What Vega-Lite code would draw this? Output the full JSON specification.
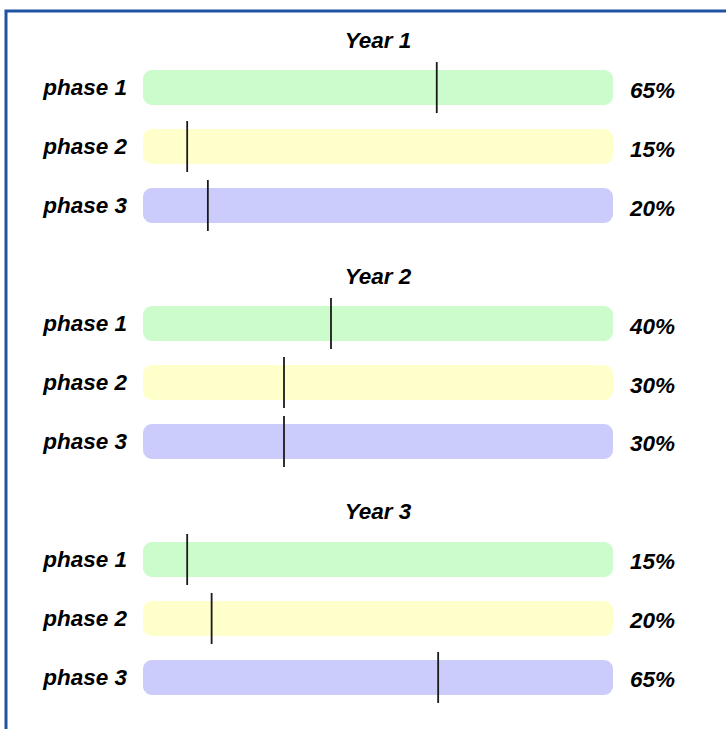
{
  "$schema": "https://vega.github.io/schema/vega-lite/v6.json",
  "width": 726,
  "height": 729,
  "autosize": {"type": "fit", "contains": "padding"},
  "padding": {"left": 6, "top": 11, "right": -5, "bottom": -5},
  "background": "white",
  "config": {
    "view": {"stroke": "#2153a3", "strokeWidth": 3},
    "text": {"font": "Liberation Sans"}
  },
  "data": {
    "values": [
      {"year": "Year 1", "phase": "phase 1", "marker": 62.5, "label": "65%"},
      {"year": "Year 1", "phase": "phase 2", "marker": 9.4, "label": "15%"},
      {"year": "Year 1", "phase": "phase 3", "marker": 13.8, "label": "20%"},
      {"year": "Year 2", "phase": "phase 1", "marker": 40.0, "label": "40%"},
      {"year": "Year 2", "phase": "phase 2", "marker": 30.0, "label": "30%"},
      {"year": "Year 2", "phase": "phase 3", "marker": 30.0, "label": "30%"},
      {"year": "Year 3", "phase": "phase 1", "marker": 9.4, "label": "15%"},
      {"year": "Year 3", "phase": "phase 2", "marker": 14.6, "label": "20%"},
      {"year": "Year 3", "phase": "phase 3", "marker": 62.8, "label": "65%"}
    ]
  },
  "encoding": {
    "y": {
      "field": "year",
      "type": "nominal",
      "axis": null,
      "scale": {
        "type": "band",
        "domain": ["Year 1", "Year 2", "Year 3"],
        "paddingInner": 0.25,
        "paddingOuter": 0.157,
        "align": 0.635
      }
    },
    "yOffset": {
      "field": "phase",
      "type": "nominal",
      "scale": {
        "domain": ["phase 1", "phase 2", "phase 3"],
        "paddingInner": 0,
        "paddingOuter": 0
      }
    }
  },
  "layer": [
    {
      "mark": {"type": "bar", "cornerRadius": 9, "height": 35},
      "encoding": {
        "x": {
          "datum": 0,
          "type": "quantitative",
          "scale": {"domain": [-29.149, 125.106], "nice": false, "zero": false},
          "axis": null
        },
        "x2": {"datum": 100},
        "color": {
          "field": "phase",
          "type": "nominal",
          "scale": {
            "domain": ["phase 1", "phase 2", "phase 3"],
            "range": ["#ccfccc", "#ffffcc", "#ccccfc"]
          },
          "legend": null
        }
      }
    },
    {
      "mark": {"type": "tick", "orient": "vertical", "size": 51, "thickness": 1.8, "color": "#1a1a1a", "opacity": 1},
      "encoding": {
        "x": {"field": "marker", "type": "quantitative"}
      }
    },
    {
      "mark": {"type": "text", "align": "right", "baseline": "middle", "fontSize": 22.5, "fontWeight": "bold", "fontStyle": "italic", "color": "#000", "dy": 0.5},
      "encoding": {
        "x": {"datum": -3.4, "type": "quantitative"},
        "text": {"field": "phase"}
      }
    },
    {
      "mark": {"type": "text", "align": "left", "baseline": "middle", "fontSize": 22.5, "fontWeight": "bold", "fontStyle": "italic", "color": "#000", "dy": 3},
      "encoding": {
        "x": {"datum": 103.6, "type": "quantitative"},
        "text": {"field": "label"}
      }
    },
    {
      "transform": [{"filter": "datum.phase === 'phase 1'"}],
      "mark": {"type": "text", "align": "center", "baseline": "middle", "fontSize": 22.5, "fontWeight": "bold", "fontStyle": "italic", "color": "#000", "dy": -47},
      "encoding": {
        "x": {"datum": 50, "type": "quantitative"},
        "text": {"field": "year"}
      }
    }
  ]
}
